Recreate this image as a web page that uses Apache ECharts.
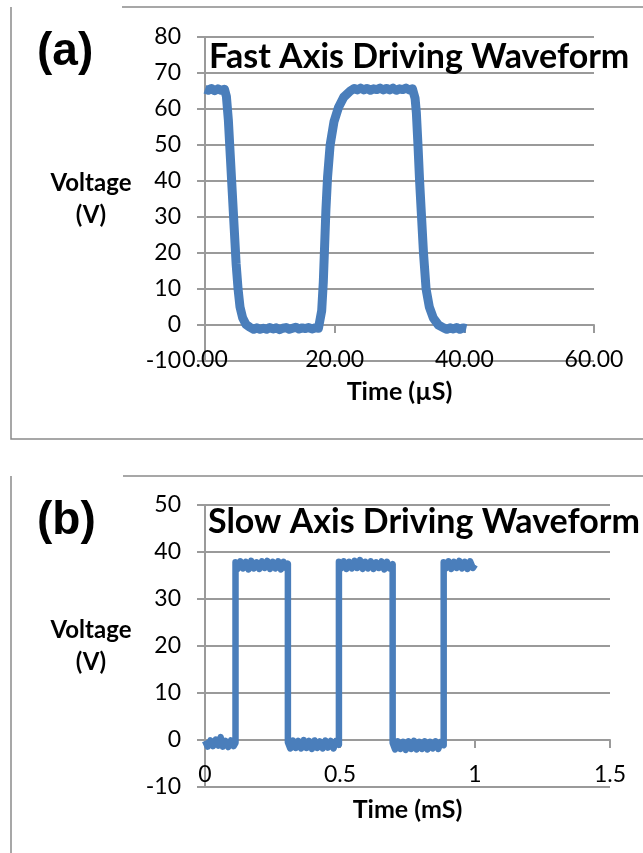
<!DOCTYPE html>
<html>
<head>
<meta charset="utf-8">
<script src="https://cdn.jsdelivr.net/npm/echarts@6/dist/echarts.min.js"></script>
<style>
  html, body { margin: 0; padding: 0; background: #ffffff; }
  #chart { width: 643px; height: 853px; }
</style>
</head>
<body>
<div id="chart"></div>
<script>
// ---- Fast axis driving waveform: time (µs) / voltage (V) ----
const fastTimeUs = [
  0.0, 0.5, 1.0, 1.5, 2.0, 2.5, 3.0,
  3.3, 3.6, 3.9, 4.2, 4.5, 4.8, 5.1, 5.4, 5.8, 6.3, 6.9,
  7.5, 8.0, 8.5, 9.0, 9.5, 10.0, 10.5, 11.0, 11.5, 12.0, 12.5, 13.0, 13.5, 14.0, 14.5, 15.0, 15.5, 16.0, 16.5, 17.0, 17.5,
  18.0, 18.25, 18.45, 18.65, 18.9, 19.3, 19.9, 20.6, 21.4, 22.4,
  23.0, 23.5, 24.0, 24.5, 25.0, 25.5, 26.0, 26.5, 27.0, 27.5, 28.0, 28.5, 29.0, 29.5, 30.0, 30.5, 31.0, 31.5, 32.0,
  32.4, 32.6, 32.85, 33.1, 33.4, 33.7, 34.1, 34.6, 35.2, 36.0, 36.8,
  37.3, 37.8, 38.3, 38.8, 39.3, 39.8, 40.3
];
const fastVoltage = [
  65.5, 65.2, 65.7, 65.1, 65.6, 65.2, 65.5,
  63.5, 57.0, 47.0, 37.0, 27.0, 17.0, 10.0, 5.0, 2.0, 0.2, -0.6,
  -1.2, -0.8, -1.2, -0.9, -1.2, -0.7, -1.1, -0.8, -1.3, -0.9, -0.7, -1.2, -0.9, -0.6, -1.1, -0.8, -1.0, -0.7, -1.1, -0.8, -0.9,
  4.0, 12.0, 22.0, 32.0, 41.0, 50.0, 56.5, 60.5, 63.3, 65.0,
  65.7, 65.3, 65.8, 65.3, 65.7, 65.2, 65.6, 65.4, 65.8, 65.3, 65.7, 65.3, 65.8, 65.2, 65.6, 65.4, 65.8, 65.3, 65.6,
  63.0, 59.0, 50.0, 40.0, 30.0, 20.0, 10.0, 5.0, 2.0, 0.0, -0.8,
  -1.2, -0.8, -1.1, -0.7, -1.2, -0.8, -1.0
];

// ---- Slow axis driving waveform: time (ms) / voltage (V) ----
const slowTimeMs = [
  0.000, 0.010, 0.020, 0.030, 0.040, 0.050, 0.058, 0.066, 0.076, 0.086, 0.096, 0.106, 0.113,
  0.113, 0.121, 0.131, 0.141, 0.151, 0.161, 0.171, 0.181, 0.191, 0.201, 0.211, 0.221, 0.231, 0.241, 0.251, 0.261, 0.271, 0.281, 0.291, 0.300, 0.307,
  0.307, 0.316, 0.326, 0.336, 0.346, 0.356, 0.366, 0.376, 0.386, 0.396, 0.406, 0.416, 0.426, 0.436, 0.446, 0.456, 0.466, 0.476, 0.486, 0.496,
  0.496, 0.504, 0.514, 0.524, 0.534, 0.544, 0.554, 0.564, 0.574, 0.584, 0.594, 0.604, 0.614, 0.624, 0.634, 0.644, 0.654, 0.664, 0.674, 0.684, 0.695,
  0.695, 0.704, 0.714, 0.724, 0.734, 0.744, 0.754, 0.764, 0.774, 0.784, 0.794, 0.804, 0.814, 0.824, 0.834, 0.844, 0.854, 0.864, 0.874, 0.884,
  0.884, 0.892, 0.902, 0.912, 0.922, 0.932, 0.942, 0.952, 0.962, 0.972, 0.982, 0.992, 1.000
];
const slowVoltage = [
  -0.2, -1.4, -0.1, -1.3, 0.1, -1.2, 0.6, -1.4, -0.2, -1.5, -0.1, -1.3, -0.6,
  37.8, 36.4, 38.0, 36.5, 37.9, 36.3, 38.1, 36.5, 37.8, 36.4, 38.0, 36.6, 38.1, 36.4, 37.9, 36.5, 38.0, 36.3, 37.9, 36.6, 37.5,
  -0.5, -1.8, -0.1, -1.7, -0.2, -1.8, 0.0, -1.7, -0.2, -1.9, -0.1, -1.7, -0.3, -1.8, -0.1, -1.6, -0.2, -1.8, -0.2, -1.0,
  37.9, 36.5, 38.0, 36.4, 37.9, 36.5, 38.1, 36.6, 38.3, 36.4, 37.9, 36.5, 38.0, 36.4, 37.8, 36.6, 38.0, 36.3, 37.9, 36.5, 37.4,
  -0.6, -2.0, -0.3, -1.9, -0.4, -2.1, -0.3, -1.9, -0.2, -2.0, -0.4, -1.9, -0.3, -2.0, -0.4, -1.8, -0.3, -1.9, -0.4, -1.1,
  37.8, 36.5, 38.0, 36.4, 37.9, 36.6, 38.1, 36.5, 37.9, 36.4, 38.0, 36.6, 37.3
];

// Axis tick values
const fastTimeTicks = [0, 20, 40, 60];
const fastVoltTicks = [-10, 0, 10, 20, 30, 40, 50, 60, 70, 80];
const slowTimeTicks = [0, 0.5, 1, 1.5];
const slowVoltTicks = [-10, 0, 10, 20, 30, 40, 50];

const LINE_BLUE = '#4a7ebb';
const GRID_GRAY = '#9a9a9a';
const FRAME_GRAY = '#8a8a8a';
const TEXT_FONT = 'Lato, "Open Sans", sans-serif';

const pairs = (xs, ys) => xs.map((x, i) => [x, ys[i]]);
const tickRange = ticks => ({
  min: ticks[0],
  max: ticks[ticks.length - 1],
  interval: ticks[1] - ticks[0]
});

const tickLabelStyle = { color: '#000', fontFamily: TEXT_FONT, fontSize: 23 };
const axisTitleStyle = {
  color: '#000', fontFamily: TEXT_FONT, fontSize: 25, fontWeight: 'bold'
};

// Time axis drawn through V = 0: line and tick marks only
function zeroLineAxis(gridIndex, ticks) {
  return Object.assign({
    type: 'value',
    gridIndex,
    position: 'bottom',
    axisLine: { show: true, onZero: true, lineStyle: { color: GRID_GRAY, width: 2 } },
    axisTick: { show: true, length: 8, lineStyle: { color: GRID_GRAY, width: 2 } },
    axisLabel: { show: false },
    splitLine: { show: false }
  }, tickRange(ticks));
}

// Time axis labels and title, anchored to the bottom of the plot
function timeLabelAxis(gridIndex, ticks, name, labelMargin, nameGap, fmt) {
  return Object.assign({
    type: 'value',
    gridIndex,
    position: 'bottom',
    axisLine: { show: false, onZero: false },
    axisTick: { show: false },
    axisLabel: Object.assign({ margin: labelMargin, formatter: fmt }, tickLabelStyle),
    splitLine: { show: false },
    name,
    nameLocation: 'middle',
    nameGap,
    nameTextStyle: axisTitleStyle
  }, tickRange(ticks));
}

function voltAxis(gridIndex, ticks) {
  return Object.assign({
    type: 'value',
    gridIndex,
    axisLine: { show: true, onZero: false, lineStyle: { color: GRID_GRAY, width: 2 } },
    axisTick: { show: true, length: 8, lineStyle: { color: GRID_GRAY, width: 2 } },
    axisLabel: Object.assign({ margin: 24 }, tickLabelStyle),
    splitLine: { show: true, lineStyle: { color: GRID_GRAY, width: 2 } },
    name: 'Voltage\n(V)',
    nameLocation: 'middle',
    nameRotate: 0,
    nameGap: 114,
    nameTextStyle: Object.assign({ align: 'center', lineHeight: 32 }, axisTitleStyle, { fontSize: 24 })
  }, tickRange(ticks));
}

const titleStyle = {
  color: '#000', fontFamily: TEXT_FONT, fontSize: 34, fontWeight: 'bold'
};

const chart = echarts.init(document.getElementById('chart'), null, { renderer: 'canvas' });

chart.setOption({
  animation: false,
  backgroundColor: '#ffffff',
  title: [
    { text: 'Fast Axis Driving Waveform', left: 209, top: 40, padding: 0, textStyle: titleStyle },
    { text: 'Slow Axis Driving Waveform', left: 208, top: 505, padding: 0, textStyle: titleStyle }
  ],
  grid: [
    { left: 205, top: 37, width: 389, height: 324, containLabel: false, outerBoundsMode: 'none' },
    { left: 205, top: 505, width: 405, height: 282, containLabel: false, outerBoundsMode: 'none' }
  ],
  xAxis: [
    zeroLineAxis(0, fastTimeTicks),
    zeroLineAxis(1, slowTimeTicks),
    timeLabelAxis(0, fastTimeTicks, 'Time (µS)', -13, 18, v => v.toFixed(2)),
    timeLabelAxis(1, slowTimeTicks, 'Time (mS)', -24, 10, v => String(v))
  ],
  yAxis: [
    voltAxis(0, fastVoltTicks),
    voltAxis(1, slowVoltTicks)
  ],
  series: [
    {
      name: 'Fast axis',
      type: 'line',
      xAxisIndex: 0,
      yAxisIndex: 0,
      data: pairs(fastTimeUs, fastVoltage),
      symbol: 'none',
      lineStyle: { color: LINE_BLUE, width: 9, cap: 'butt', join: 'round' }
    },
    {
      name: 'Slow axis',
      type: 'line',
      xAxisIndex: 1,
      yAxisIndex: 1,
      data: pairs(slowTimeMs, slowVoltage),
      symbol: 'none',
      lineStyle: { color: LINE_BLUE, width: 6.5, cap: 'butt', join: 'round' }
    }
  ],
  graphic: [
    // panel borders
    { type: 'polyline', shape: { points: [[11, 7], [11, 439], [643, 439]] },
      style: { stroke: FRAME_GRAY, lineWidth: 1.5, fill: null }, silent: true },
    { type: 'line', shape: { x1: 122, y1: 7, x2: 643, y2: 7 },
      style: { stroke: FRAME_GRAY, lineWidth: 1.5 }, silent: true },
    { type: 'line', shape: { x1: 11, y1: 476, x2: 11, y2: 853 },
      style: { stroke: FRAME_GRAY, lineWidth: 1.5 }, silent: true },
    { type: 'line', shape: { x1: 123, y1: 476, x2: 643, y2: 476 },
      style: { stroke: FRAME_GRAY, lineWidth: 1.5 }, silent: true },
    // panel letters
    { type: 'text', style: { text: '(a)', x: 37, y: 52, fill: '#000',
      font: 'bold 46px "Liberation Sans", Arial, sans-serif', align: 'left', verticalAlign: 'middle' } },
    { type: 'text', style: { text: '(b)', x: 37, y: 521, fill: '#000',
      font: 'bold 46px "Liberation Sans", Arial, sans-serif', align: 'left', verticalAlign: 'middle' } }
  ]
});
</script>
</body>
</html>
